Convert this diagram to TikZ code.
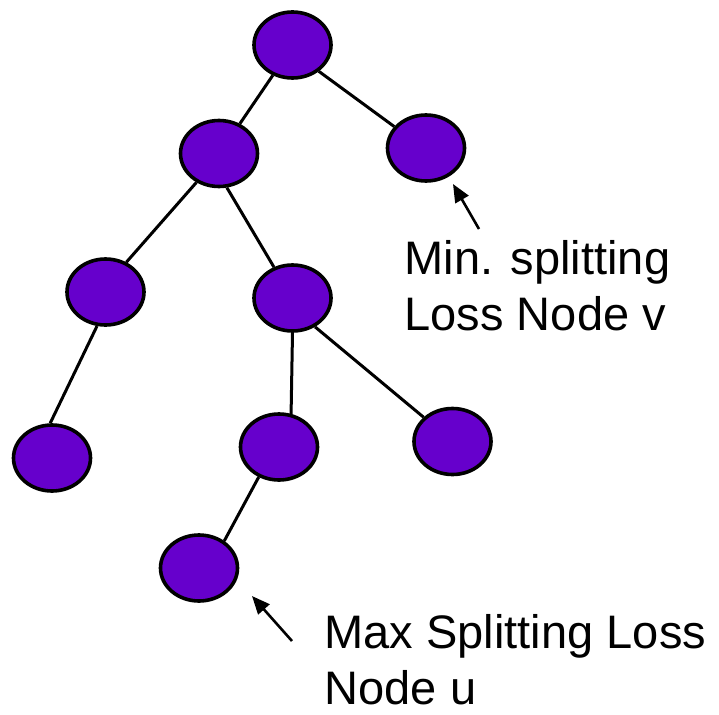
\documentclass[tikz,border=0pt]{standalone}
\usepackage{fontspec}
\newfontfamily\notefont{Liberation Sans}
\usetikzlibrary{shapes.geometric,arrows.meta}
\definecolor{nodepurple}{RGB}{102,0,204}
\begin{document}
\begin{tikzpicture}[x=1pt,y=-1pt,
  treenode/.style={ellipse,draw=black,line width=3.6pt,fill=nodepurple,
    minimum width=77pt,minimum height=66pt,inner sep=0pt},
  link/.style={line width=3pt},
  pointer/.style={line width=2.6pt,-{Triangle[length=18pt,width=15pt]}},
  note/.style={font=\notefont\fontsize{47}{56}\selectfont,align=left,
    anchor=base west,inner sep=0pt}]
\useasboundingbox (0,0) rectangle (719,714);

% tree nodes
\node[treenode] (r) at (292.5,45) {};
\node[treenode] (a) at (219,153.5) {};
\node[treenode] (b) at (426,148) {};
\node[treenode] (c) at (105.5,292) {};
\node[treenode] (d) at (292.5,298) {};
\node[treenode] (e) at (52,458) {};
\node[treenode] (f) at (279,447) {};
\node[treenode] (g) at (452.5,441.5) {};
\node[treenode] (h) at (199,568) {};

% tree edges
\draw[link] (r.237) -- (a.55);
\draw[link] (r.315) -- (b.146);
\draw[link] (a.232) -- (c.55);
\draw[link] (a.283) -- (d.121);
\draw[link] (c.256) -- (e.93);
\draw[link] (d.270) -- (f.70);
\draw[link] (d.308) -- (g.140);
\draw[link] (f.236) -- (h.47);

% annotations
\coordinate (vtail) at (479,229);
\coordinate (vtip) at (453,184);
\draw[pointer] (vtail) -- (vtip);
\coordinate (utail) at (292,641);
\coordinate (utip) at (252,596);
\draw[pointer] (utail) -- (utip);

% the base anchor of a two-line note sits on its last line
\node[note] (vnote) at (404.5,330) {Min. splitting\\Loss Node v};
\node[note,text depth=0pt] (unote) at (324.5,704) {Max Splitting Loss\\Node u};
\end{tikzpicture}
\end{document}
